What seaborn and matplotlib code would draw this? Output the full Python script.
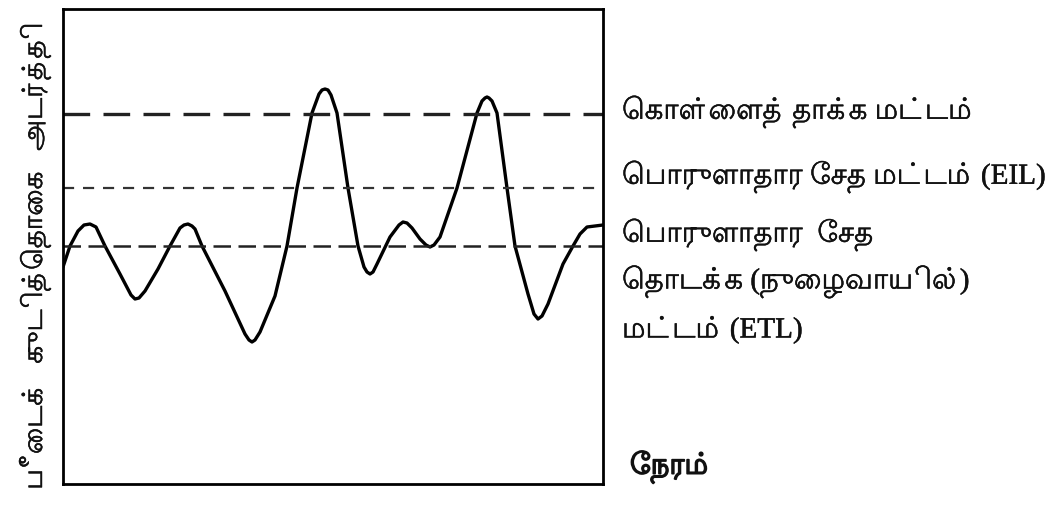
# Pest population over time with the threshold levels (ETL, EIL, outbreak)
import seaborn as sns
import matplotlib
matplotlib.use("Agg")
import matplotlib.pyplot as plt
import matplotlib.patheffects as pe
import pandas as pd

# ---------------------------
# Data (time and density in arbitrary units)
time = [0, 7, 15, 21, 27, 33, 42, 57, 68, 72, 76, 82, 95, 107, 117, 121, 125,
        129, 132, 139, 162, 182, 186, 189, 192, 197, 212, 224, 234, 249, 256,
        259, 262, 265, 268, 274, 285, 295, 301, 304, 307, 310, 314, 327, 336,
        340, 344, 349, 357, 363, 367, 371, 377, 394, 414, 419, 422, 424, 426,
        429, 434, 444, 452, 465, 471, 475, 479, 485, 500, 510, 517, 524, 540]
density = [217, 238, 253, 259, 260, 257, 238, 210, 189, 185, 186, 193, 215,
           238, 256, 259, 260, 258, 255, 238, 193, 150, 144, 142, 144, 152,
           188, 238, 296, 371, 390, 394, 395, 394, 389, 371, 296, 238, 217,
           212, 210, 212, 220, 247, 259, 262, 261, 256, 245, 239, 237, 239,
           247, 296, 371, 383, 386, 387, 386, 383, 371, 296, 238, 190, 170,
           165, 168, 180, 220, 238, 250, 257, 259]

outbreak_level = 370
eil_level = 296
etl_level = 238

level_labels = ["கொள்ளைத் தாக்க மட்டம்",
                "பொருளாதார சேத மட்டம் (EIL)",
                "பொருளாதார  சேத",
                "தொடக்க (நுழைவாயில்)",
                "மட்டம் (ETL)"]
x_label = "நேரம்"
y_label = "பீடைக்   குடித்தொகை   அடர்த்தி"

# matplotlib does no text shaping, so put the Tamil vowel signs that are
# written before the consonant into the order in which they are seen
PREBASE = {"\u0BC6": ("\u0BC6", ""), "\u0BC7": ("\u0BC7", ""),
           "\u0BC8": ("\u0BC8", ""), "\u0BCA": ("\u0BC6", "\u0BBE"),
           "\u0BCB": ("\u0BC7", "\u0BBE"), "\u0BCC": ("\u0BC6", "\u0BD7")}


def visual(s):
    out = []
    for ch in s:
        if ch in PREBASE and out:
            pre, post = PREBASE[ch]
            out.append(pre + out.pop() + post)
        else:
            out.append(ch)
    return "".join(out)


sns.set_style("white")
plt.rcParams["font.family"] = ["Liberation Serif", "Lohit Tamil", "DejaVu Sans"]

df = pd.DataFrame({"time": time, "density": density})

fig = plt.figure(figsize=(10.52, 5.06), dpi=100)
ax = fig.add_axes([63 / 1052, 21 / 506, 540 / 1052, 475 / 506])

sns.lineplot(data=df, x="time", y="density", color="black", linewidth=2.4, ax=ax)

ax.axhline(outbreak_level, color="#222222", linewidth=2.4, dashes=(8, 4))
ax.axhline(eil_level, color="#333333", linewidth=1.6, dashes=(5, 4))
ax.axhline(etl_level, color="#222222", linewidth=1.8, dashes=(7, 3))

ax.set_xlim(0, 540)
ax.set_ylim(0, 475)
ax.set_xticks([])
ax.set_yticks([])
ax.set_xlabel("")
ax.set_ylabel("")
for s in ax.spines.values():
    s.set_color("black")
    s.set_linewidth(2)

# labels on the right
fs = 21
thick = [pe.withStroke(linewidth=0.35, foreground="#111111")]
label_y = [113, 178, 236, 283, 331]
for txt, py in zip(level_labels, label_y):
    fig.text(622 / 1052, 1 - py / 506, visual(txt), fontsize=fs, va="center",
             ha="left", color="#111111", path_effects=thick)
fig.text(630 / 1052, 1 - 468 / 506, visual(x_label), fontsize=fs, va="center",
         ha="left", color="#111111", fontweight="bold",
         path_effects=[pe.withStroke(linewidth=1.2, foreground="#111111")])
fig.text(35 / 1052, 1 - 257 / 506, visual(y_label), fontsize=20, rotation=90,
         va="center", ha="center", color="#111111", path_effects=thick)

plt.savefig("out.png", dpi=100)
